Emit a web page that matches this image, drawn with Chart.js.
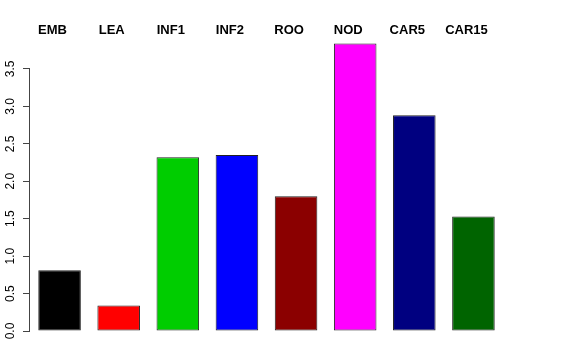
<!DOCTYPE html>
<html>
<head>
<meta charset="utf-8">
<script src="https://cdn.jsdelivr.net/npm/chart.js@4.4.0/dist/chart.umd.min.js"></script>
<style>
  html, body { margin: 0; padding: 0; background: #fff; }
  #wrap { width: 576px; height: 360px; }
</style>
</head>
<body>
<div id="wrap"><canvas id="bar"></canvas></div>
<script>
const categories = ['EMB', 'LEA', 'INF1', 'INF2', 'ROO', 'NOD', 'CAR5', 'CAR15'];
const values = [0.81, 0.34, 2.32, 2.35, 1.80, 3.84, 2.88, 1.53];
const barColors = ['#000000', '#FF0000', '#00CD00', '#0000FF', '#8B0000', '#FF00FF', '#000080', '#006400'];
const yTicks = [0, 0.5, 1, 1.5, 2, 2.5, 3, 3.5];

// Achsenlinie nur von 0 bis 3.5 wie in R
const axisLine = {
  id: 'axisLine',
  afterDraw(chart) {
    const y = chart.scales.y;
    const ctx = chart.ctx;
    const x = y.right - 0.5;
    ctx.save();
    ctx.strokeStyle = '#444';
    ctx.lineWidth = 1;
    ctx.beginPath();
    ctx.moveTo(x, y.getPixelForValue(yTicks[0]));
    ctx.lineTo(x, y.getPixelForValue(yTicks[yTicks.length - 1]));
    ctx.stroke();
    ctx.restore();
  }
};

new Chart(document.getElementById('bar'), {
  type: 'bar',
  data: {
    labels: categories,
    datasets: [{
      data: values,
      backgroundColor: barColors,
      borderColor: '#222',
      borderWidth: 1,
      borderSkipped: false,
      barPercentage: 0.72,
      categoryPercentage: 1
    }]
  },
  options: {
    responsive: true,
    maintainAspectRatio: false,
    animation: false,
    layout: { padding: { left: 0, right: 73, top: 14, bottom: 29 } },
    plugins: { legend: { display: false }, tooltip: { enabled: false } },
    scales: {
      x: {
        position: 'top',
        grid: { display: false },
        border: { display: false },
        ticks: {
          color: '#000',
          font: { family: 'Liberation Sans', size: 13, weight: 'bold' },
          labelOffset: -7,
          padding: -7,
          maxRotation: 0
        },
        afterFit(scale) { scale.height = 25; }
      },
      y: {
        min: 0,
        max: 3.9,
        grid: { drawOnChartArea: false, drawTicks: true, tickLength: 7, color: '#444' },
        border: { display: false },
        afterBuildTicks(scale) { scale.ticks = yTicks.map(v => ({ value: v })); },
        ticks: {
          color: '#000',
          font: { family: 'Liberation Sans', size: 12 },
          minRotation: 90,
          maxRotation: 90,
          crossAlign: 'center',
          padding: 4,
          callback: v => Number(v).toFixed(1)
        },
        afterFit(scale) { scale.width = 30; }
      }
    }
  },
  plugins: [axisLine]
});
</script>
</body>
</html>
